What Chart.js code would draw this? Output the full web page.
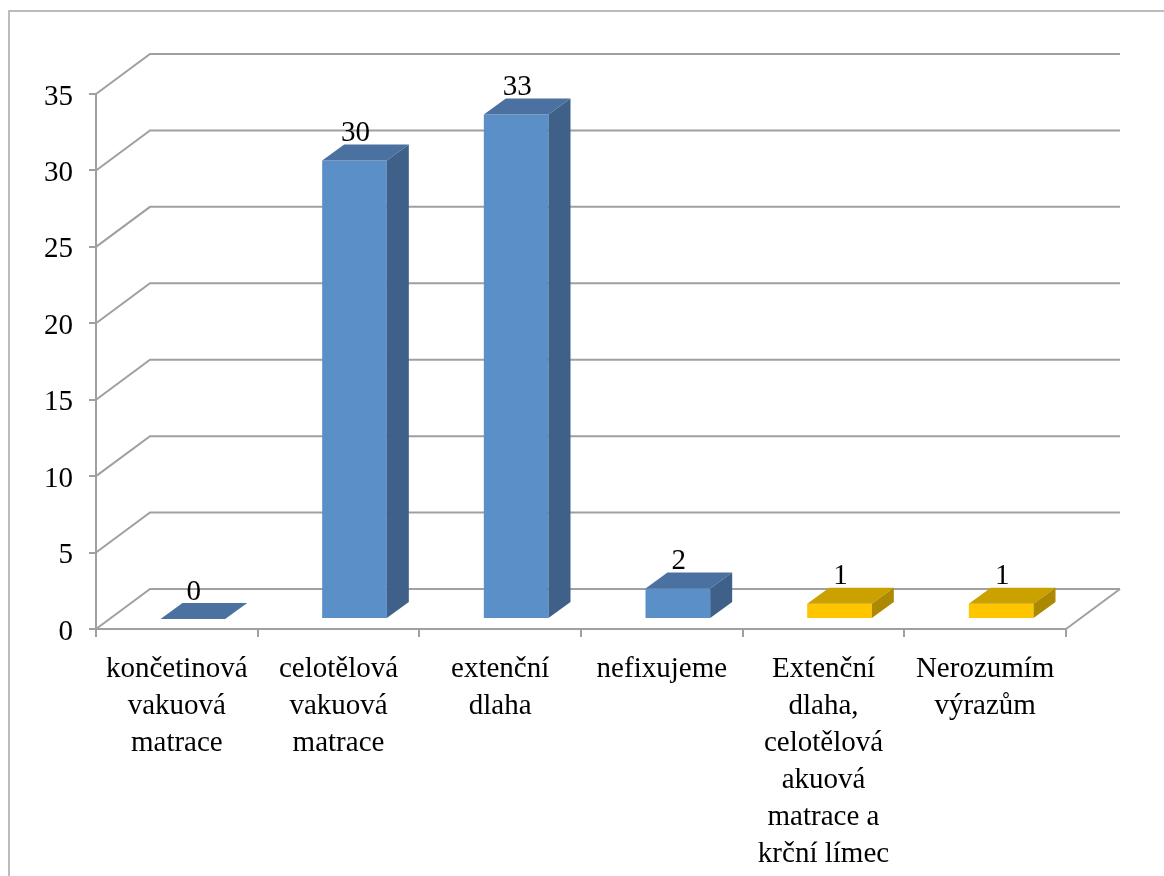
<!DOCTYPE html>
<html>
<head>
<meta charset="utf-8">
<script src="https://cdn.jsdelivr.net/npm/chart.js@4.4.1/dist/chart.umd.min.js"></script>
<style>
  html, body { margin: 0; padding: 0; background: #ffffff; }
  canvas { display: block; }
</style>
</head>
<body>
<canvas id="chart" width="1164" height="876"></canvas>
<script>
// Categories (wrapped onto several lines) and counts
const categories = [
  ['končetinová', 'vakuová', 'matrace'],
  ['celotělová', 'vakuová', 'matrace'],
  ['extenční', 'dlaha'],
  ['nefixujeme'],
  ['Extenční', 'dlaha,', 'celotělová', 'akuová', 'matrace a', 'krční límec'],
  ['Nerozumím', 'výrazům']
];
const counts = [0, 30, 33, 2, 1, 1];
const yTicks = [0, 5, 10, 15, 20, 25, 30, 35];

// Face colours per bar: front / top / side
const frontColors = ['#5B8FC7', '#5B8FC7', '#5B8FC7', '#5B8FC7', '#FFC600', '#FFC600'];
const topColors   = ['#4A71A0', '#4A71A0', '#4A71A0', '#4A71A0', '#CBA100', '#CBA100'];
const sideColors  = ['#3F6189', '#3F6189', '#3F6189', '#3F6189', '#AC8900', '#AC8900'];

const FONT = 'Liberation Serif, "Times New Roman", serif';
const GRID = '#A0A0A0';

// depth of the back wall and of the bar bodies (pixels)
const WALL_DX = 54, WALL_DY = -40;
const BAR_SHIFT_X = 16, BAR_SHIFT_Y = -10;
const BAR_DX = 22, BAR_DY = -16;

const box3d = {
  id: 'box3d',
  beforeDraw(chart) {
    const ctx = chart.ctx;
    ctx.save();
    ctx.fillStyle = '#ffffff';
    ctx.fillRect(0, 0, chart.width, chart.height);
    ctx.strokeStyle = '#A6A6A6';
    ctx.lineWidth = 1.5;
    ctx.strokeRect(9, 11, 1300, 1000);
    ctx.restore();
  },
  beforeDatasetsDraw(chart) {
    const ctx = chart.ctx;
    const { left, right, bottom } = chart.chartArea;
    const y = chart.scales.y;
    ctx.save();
    ctx.strokeStyle = GRID;
    ctx.lineWidth = 2;
    // back wall and side wall grid lines
    yTicks.forEach(v => {
      const py = y.getPixelForValue(v);
      ctx.beginPath();
      ctx.moveTo(left, py);
      ctx.lineTo(left + WALL_DX, py + WALL_DY);
      ctx.lineTo(right + WALL_DX, py + WALL_DY);
      ctx.stroke();
    });
    // floor right edge
    ctx.beginPath();
    ctx.moveTo(right, bottom);
    ctx.lineTo(right + WALL_DX, bottom + WALL_DY);
    ctx.stroke();
    ctx.restore();
    // bars sit inside the depth of the floor
    ctx.save();
    ctx.translate(BAR_SHIFT_X, BAR_SHIFT_Y);
  },
  afterDatasetsDraw(chart) {
    const ctx = chart.ctx;
    const meta = chart.getDatasetMeta(0);
    meta.data.forEach((bar, i) => {
      const half = bar.width / 2;
      const x0 = bar.x - half, x1 = bar.x + half;
      const top = bar.y, base = bar.base;
      // top face
      ctx.fillStyle = topColors[i];
      ctx.beginPath();
      ctx.moveTo(x0, top);
      ctx.lineTo(x1, top);
      ctx.lineTo(x1 + BAR_DX, top + BAR_DY);
      ctx.lineTo(x0 + BAR_DX, top + BAR_DY);
      ctx.closePath();
      ctx.fill();
      // side face
      if (base - top > 0.5) {
        ctx.fillStyle = sideColors[i];
        ctx.beginPath();
        ctx.moveTo(x1, top);
        ctx.lineTo(x1 + BAR_DX, top + BAR_DY);
        ctx.lineTo(x1 + BAR_DX, base + BAR_DY);
        ctx.lineTo(x1, base);
        ctx.closePath();
        ctx.fill();
      }
      // value label
      ctx.fillStyle = '#000000';
      ctx.font = '29px ' + FONT;
      ctx.textAlign = 'center';
      ctx.textBaseline = 'middle';
      ctx.fillText(String(counts[i]), bar.x + 1, top - 27);
    });
    ctx.restore();
  }
};

new Chart(document.getElementById('chart'), {
  type: 'bar',
  data: {
    labels: categories,
    datasets: [{
      data: counts,
      backgroundColor: frontColors,
      borderWidth: 0,
      barPercentage: 0.4,
      categoryPercentage: 1
    }]
  },
  options: {
    responsive: false,
    animation: false,
    events: [],
    layout: { padding: { top: 94, right: 98, left: 0, bottom: 0 } },
    plugins: { legend: { display: false }, tooltip: { enabled: false } },
    scales: {
      x: {
        offset: true,
        grid: { display: true, drawOnChartArea: false, drawTicks: true, tickLength: 8, color: GRID, lineWidth: 2, offset: true },
        border: { display: true, color: GRID, width: 2 },
        ticks: {
          autoSkip: false, maxRotation: 0, minRotation: 0, padding: 14,
          color: '#000000',
          font: { family: FONT, size: 29, lineHeight: '37px' }
        },
        afterFit(scale) { scale.height = 876 - 629; }
      },
      y: {
        min: 0, max: 35,
        grid: { display: true, drawOnChartArea: false, drawTicks: true, tickLength: 7, color: GRID, lineWidth: 2 },
        border: { display: true, color: GRID, width: 2 },
        ticks: {
          stepSize: 5, padding: 16, labelOffset: 3,
          color: '#000000',
          font: { family: FONT, size: 29 }
        },
        afterFit(scale) { scale.width = 96; }
      }
    }
  },
  plugins: [box3d]
});
</script>
</body>
</html>
